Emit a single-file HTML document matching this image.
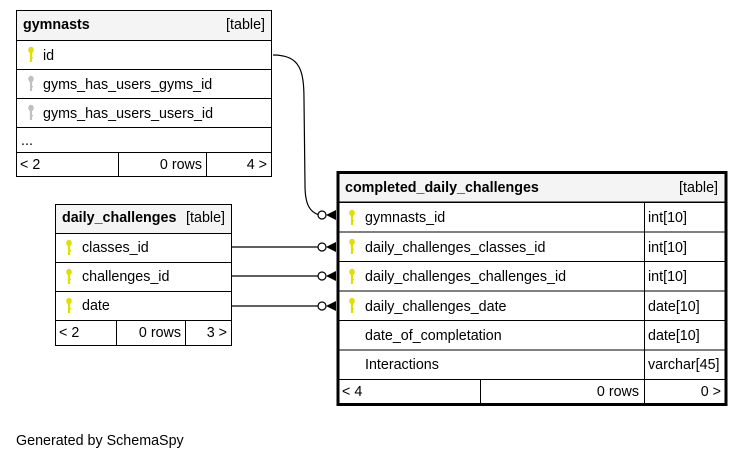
<!DOCTYPE html>
<html><head><meta charset="utf-8"><style>
html,body{margin:0;padding:0;background:#fff;}
svg text{font-family:"Liberation Sans",Arial,sans-serif;font-size:14.3px;fill:#000;}
</style></head><body>
<svg width="744" height="461" viewBox="0 0 744 461" xmlns="http://www.w3.org/2000/svg">
<defs>
<g id="key"><ellipse cx="0" cy="0" rx="2.8" ry="3.2"/><rect x="-1.1" y="1" width="2.2" height="11"/><rect x="0" y="7" width="2" height="1.3"/></g>
</defs>
<!-- gymnasts -->
<g stroke="#000" stroke-width="1" fill="none">
<rect x="16.5" y="10.5" width="255" height="30" fill="#f4f4f4"/>
<rect x="16.5" y="40.5" width="255" height="29" fill="#fff"/>
<rect x="16.5" y="69.5" width="255" height="29" fill="#fff"/>
<rect x="16.5" y="98.5" width="255" height="29" fill="#fff"/>
<rect x="16.5" y="127.5" width="255" height="25" fill="#fff"/>
<rect x="16.5" y="152.5" width="255" height="24" fill="#fff"/>
<line x1="118.5" y1="152" x2="118.5" y2="176"/>
<line x1="206.5" y1="152" x2="206.5" y2="176"/>
</g>
<text x="23" y="29" font-weight="bold">gymnasts</text>
<text x="265" y="29" text-anchor="end">[table]</text>
<use href="#key" x="31" y="50" fill="#e0e000"/>
<text x="43" y="60">id</text>
<use href="#key" x="31" y="79" fill="#c0c0c0"/>
<text x="43" y="89">gyms_has_users_gyms_id</text>
<use href="#key" x="31" y="108" fill="#c0c0c0"/>
<text x="43" y="118">gyms_has_users_users_id</text>
<text x="21" y="145">...</text>
<text x="20" y="169">&lt; 2</text>
<text x="202" y="169" text-anchor="end">0 rows</text>
<text x="267" y="169" text-anchor="end">4 &gt;</text>

<!-- daily_challenges -->
<g stroke="#000" stroke-width="1" fill="none">
<rect x="55.5" y="204.5" width="176" height="29" fill="#f4f4f4"/>
<rect x="55.5" y="233.5" width="176" height="29" fill="#fff"/>
<rect x="55.5" y="262.5" width="176" height="29" fill="#fff"/>
<rect x="55.5" y="291.5" width="176" height="29" fill="#fff"/>
<rect x="55.5" y="320.5" width="176" height="25" fill="#fff"/>
<line x1="116.5" y1="320" x2="116.5" y2="345"/>
<line x1="185.5" y1="320" x2="185.5" y2="345"/>
</g>
<text x="62" y="222" font-weight="bold">daily_challenges</text>
<text x="225" y="222" text-anchor="end">[table]</text>
<use href="#key" x="69" y="243" fill="#e0e000"/>
<text x="82" y="252">classes_id</text>
<use href="#key" x="69" y="272" fill="#e0e000"/>
<text x="82" y="281">challenges_id</text>
<use href="#key" x="69" y="301" fill="#e0e000"/>
<text x="82" y="310">date</text>
<text x="59" y="337">&lt; 2</text>
<text x="181" y="337" text-anchor="end">0 rows</text>
<text x="227" y="337" text-anchor="end">3 &gt;</text>

<!-- completed -->
<g stroke="#000" stroke-width="1" fill="none">
<rect x="338" y="173" width="388" height="29" fill="#f4f4f4"/>
<rect x="338" y="202.5" width="388" height="29.5" fill="#fff"/>
<rect x="338" y="232" width="388" height="29.5" fill="#fff"/>
<rect x="338" y="261.5" width="388" height="29.5" fill="#fff"/>
<rect x="338" y="291" width="388" height="29.5" fill="#fff"/>
<rect x="338" y="320.5" width="388" height="29.5" fill="#fff"/>
<rect x="338" y="350" width="388" height="29.5" fill="#fff"/>
<line x1="644.5" y1="202" x2="644.5" y2="404"/>
<line x1="480.5" y1="379" x2="480.5" y2="404"/>
<rect x="338" y="172.5" width="388" height="232" stroke-width="3"/>
</g>
<text x="345" y="192" font-weight="bold">completed_daily_challenges</text>
<text x="718" y="192" text-anchor="end">[table]</text>
<use href="#key" x="352" y="213" fill="#e0e000"/>
<text x="365" y="222">gymnasts_id</text>
<use href="#key" x="352" y="242" fill="#e0e000"/>
<text x="365" y="252">daily_challenges_classes_id</text>
<use href="#key" x="352" y="272" fill="#e0e000"/>
<text x="365" y="281">daily_challenges_challenges_id</text>
<use href="#key" x="352" y="301" fill="#e0e000"/>
<text x="365" y="311">daily_challenges_date</text>
<text x="365" y="340">date_of_completation</text>
<text x="365" y="369">Interactions</text>
<text x="648" y="222">int[10]</text>
<text x="648" y="252">int[10]</text>
<text x="648" y="281">int[10]</text>
<text x="648" y="311">date[10]</text>
<text x="648" y="340">date[10]</text>
<text x="648" y="369">varchar[45]</text>
<text x="342" y="396">&lt; 4</text>
<text x="639" y="396" text-anchor="end">0 rows</text>
<text x="721" y="396" text-anchor="end">0 &gt;</text>

<!-- connectors -->
<g stroke="#000" stroke-width="1.2" fill="none">
<path d="M273 55 C300 55 304 70 304 100 L305 185 C305 205 310 212 319 215"/>
<line x1="231" y1="247" x2="318" y2="247"/>
<line x1="231" y1="276" x2="318" y2="276"/>
<line x1="231" y1="306" x2="318" y2="306"/>
</g>
<g stroke="#000" stroke-width="1.2" fill="#fff">
<circle cx="322" cy="215" r="4"/>
<circle cx="322" cy="247" r="4"/>
<circle cx="322" cy="276" r="4"/>
<circle cx="322" cy="306" r="4"/>
</g>
<g fill="#000">
<path d="M326 215 L336 210 L336 220 Z"/>
<path d="M326 247 L336 242 L336 252 Z"/>
<path d="M326 276 L336 271 L336 281 Z"/>
<path d="M326 306 L336 301 L336 311 Z"/>
</g>

<text x="16" y="445">Generated by SchemaSpy</text>
</svg>
</body></html>
